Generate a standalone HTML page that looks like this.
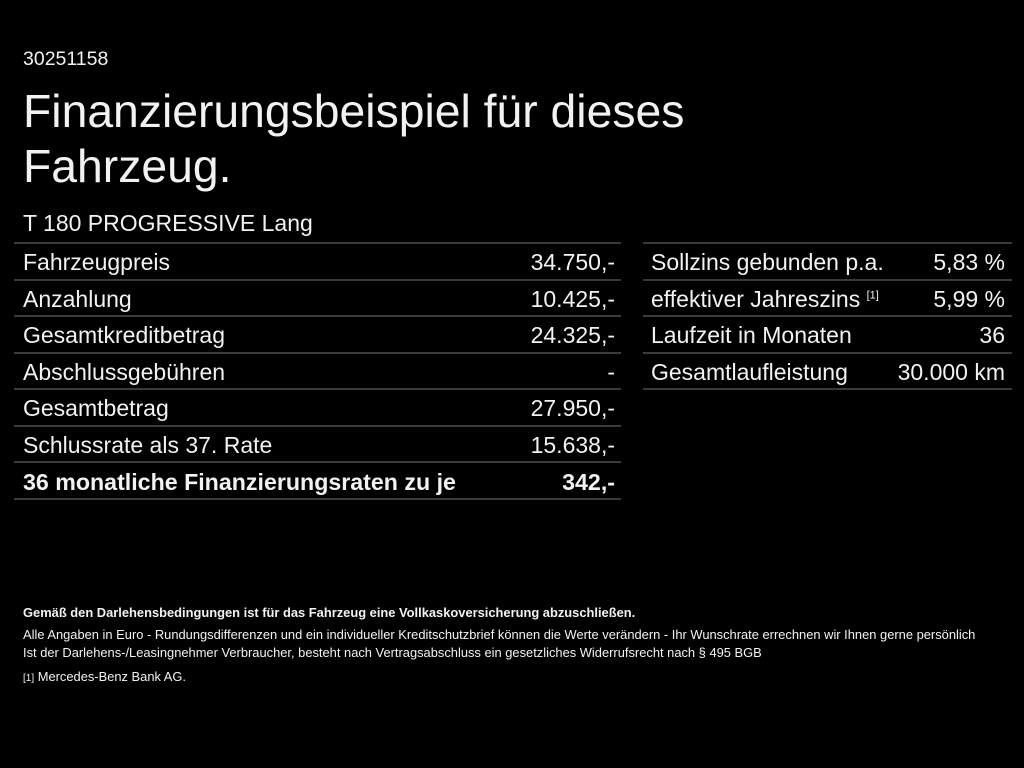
<!DOCTYPE html>
<html><head><meta charset="utf-8"><style>
body{margin:0;width:1024px;height:768px;background:#000;color:#f2f2f2;font-family:"Liberation Sans",sans-serif;position:relative;overflow:hidden}
.a{position:absolute;white-space:nowrap}
.l{position:absolute;height:2px;background:#3a3a3a}
.r{position:absolute;font-size:23px;line-height:36px;white-space:nowrap}
.v{text-align:right}
.s{font-size:12.9px;line-height:18px}
sup{line-height:0}
</style></head><body>
<div class="a" style="left:23px;top:48px;font-size:19.5px">30251158</div>
<div class="a" style="left:23px;top:84px;font-size:46.3px;line-height:55px">Finanzierungsbeispiel für dieses<br>Fahrzeug.</div>
<div class="a" style="left:23px;top:210px;font-size:23px">T 180 PROGRESSIVE Lang</div>

<div class="l" style="left:14px;width:607px;top:242px"></div>
<div class="l" style="left:14px;width:607px;top:279px"></div>
<div class="l" style="left:14px;width:607px;top:315px"></div>
<div class="l" style="left:14px;width:607px;top:352px"></div>
<div class="l" style="left:14px;width:607px;top:388px"></div>
<div class="l" style="left:14px;width:607px;top:425px"></div>
<div class="l" style="left:14px;width:607px;top:461px"></div>
<div class="l" style="left:14px;width:607px;top:498px"></div>

<div class="l" style="left:643px;width:369px;top:242px"></div>
<div class="l" style="left:643px;width:369px;top:279px"></div>
<div class="l" style="left:643px;width:369px;top:315px"></div>
<div class="l" style="left:643px;width:369px;top:352px"></div>
<div class="l" style="left:643px;width:369px;top:388px"></div>

<div class="r" style="left:23px;top:244px">Fahrzeugpreis</div><div class="r v" style="right:409px;top:244px">34.750,-</div>
<div class="r" style="left:23px;top:281px">Anzahlung</div><div class="r v" style="right:409px;top:281px">10.425,-</div>
<div class="r" style="left:23px;top:317px">Gesamtkreditbetrag</div><div class="r v" style="right:409px;top:317px">24.325,-</div>
<div class="r" style="left:23px;top:354px">Abschlussgebühren</div><div class="r v" style="right:409px;top:354px">-</div>
<div class="r" style="left:23px;top:390px">Gesamtbetrag</div><div class="r v" style="right:409px;top:390px">27.950,-</div>
<div class="r" style="left:23px;top:427px">Schlussrate als 37. Rate</div><div class="r v" style="right:409px;top:427px">15.638,-</div>
<div class="r" style="left:23px;top:464px;font-weight:bold;font-size:23.2px">36 monatliche Finanzierungsraten zu je</div><div class="r v" style="right:409px;top:464px;font-weight:bold;font-size:23.2px">342,-</div>

<div class="r" style="left:651px;top:244px">Sollzins gebunden p.a.</div><div class="r v" style="right:19px;top:244px">5,83 %</div>
<div class="r" style="left:651px;top:281px">effektiver Jahreszins <sup style="font-size:11px">[1]</sup></div><div class="r v" style="right:19px;top:281px">5,99 %</div>
<div class="r" style="left:651px;top:317px">Laufzeit in Monaten</div><div class="r v" style="right:19px;top:317px">36</div>
<div class="r" style="left:651px;top:354px">Gesamtlaufleistung</div><div class="r v" style="right:19px;top:354px">30.000 km</div>

<div class="a s" style="left:23px;top:604px;font-weight:bold">Gemäß den Darlehensbedingungen ist für das Fahrzeug eine Vollkaskoversicherung abzuschließen.</div>
<div class="a s" style="left:23px;top:626px">Alle Angaben in Euro - Rundungsdifferenzen und ein individueller Kreditschutzbrief können die Werte verändern - Ihr Wunschrate errechnen wir Ihnen gerne persönlich</div>
<div class="a s" style="left:23px;top:644px">Ist der Darlehens-/Leasingnehmer Verbraucher, besteht nach Vertragsabschluss ein gesetzliches Widerrufsrecht nach § 495 BGB</div>
<div class="a s" style="left:23px;top:668px"><span style="font-size:10px">[1]</span> Mercedes-Benz Bank AG.</div>
</body></html>
